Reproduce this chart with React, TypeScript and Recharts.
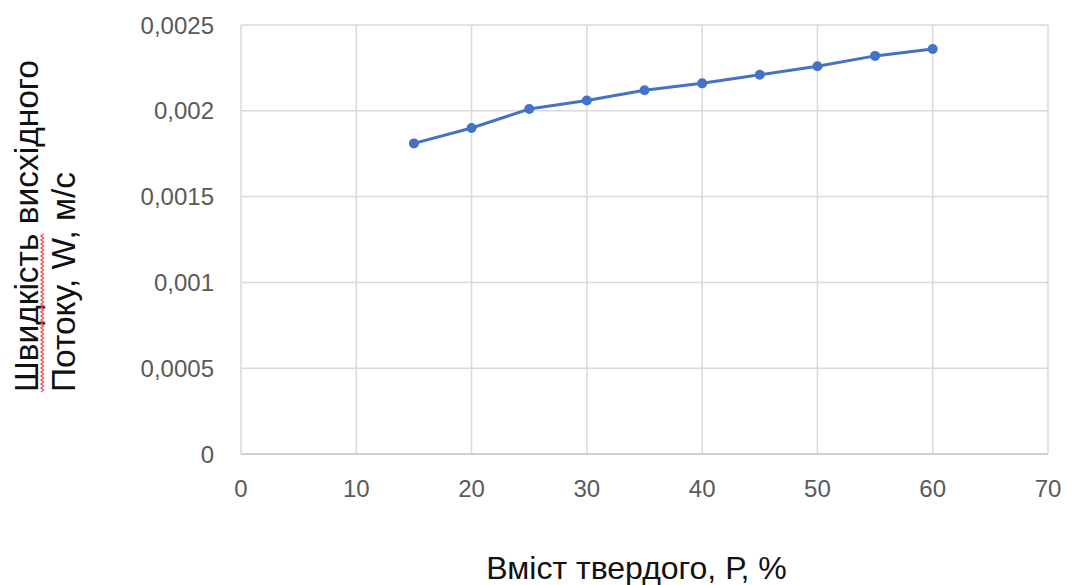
import React, { useLayoutEffect, useRef, useState } from 'react';
import { LineChart, Line, XAxis, YAxis, CartesianGrid, Label } from 'recharts';

// Solids content, P (%)
const solidsPercent = [15, 20, 25, 30, 35, 40, 45, 50, 55, 60];
// Upward flow velocity, W (m/s)
const flowVelocity = [0.00181, 0.0019, 0.00201, 0.00206, 0.00212, 0.00216, 0.00221, 0.00226, 0.00232, 0.00236];

const xTicks = [0, 10, 20, 30, 40, 50, 60, 70];
const yTicks = [0, 0.0005, 0.001, 0.0015, 0.002, 0.0025];

const xTitle = 'Вміст твердого, Р, %';
const yTitleFirstWord = 'Швидкість';
const yTitleRest = ' висхідного';
const yTitleSecondLine = 'Потоку, W, м/с';

const data = solidsPercent.map((p, i) => ({ p, w: flowVelocity[i] }));

const FONT = "'Liberation Sans', Arial, sans-serif";
const TICK_COLOR = '#595959';
const GRID_COLOR = '#d9d9d9';
const LINE_COLOR = '#4472C4';

const formatComma = (v: number) => String(v).replace('.', ',');

// Spell-check style wavy underline drawn under a word of given length
const squigglePath = (x0: number, y0: number, length: number) => {
  const step = 2;
  let d = `M${x0},${y0}`;
  for (let i = 1, x = x0 + step; x <= x0 + length; i++, x += step) {
    d += ` L${x},${y0 + (i % 2 ? 2.5 : 0)}`;
  }
  return d;
};

const YTitle = (props: any) => {
  const vb = props.viewBox || {};
  const bottom = vb.y + vb.height - 62;
  const x1 = 38;
  const x2 = 75;
  const wordRef = useRef<SVGTSpanElement | null>(null);
  const [wordLen, setWordLen] = useState(0);
  useLayoutEffect(() => {
    if (wordRef.current) setWordLen(wordRef.current.getComputedTextLength());
  }, []);
  return (
    <g fontFamily={FONT} fontSize={33.5} fill="#111">
      <g transform={`rotate(-90 ${x1} ${bottom})`}>
        <text x={x1} y={bottom} textAnchor="start">
          <tspan ref={wordRef}>{yTitleFirstWord}</tspan>
          <tspan>{yTitleRest}</tspan>
        </text>
        {wordLen > 0 && (
          <path d={squigglePath(x1, bottom + 3, wordLen)} fill="none" stroke="#ff4a4a" strokeWidth={1.4} />
        )}
      </g>
      <text x={x2} y={bottom} transform={`rotate(-90 ${x2} ${bottom})`} textAnchor="start">
        {yTitleSecondLine}
      </text>
    </g>
  );
};

const XTitle = (props: any) => {
  const vb = props.viewBox || {};
  const cx = vb.x + vb.width / 2 - 8;
  return (
    <text x={cx} y={579} textAnchor="middle" fontFamily={FONT} fontSize={32} fill="#111">
      {xTitle}
    </text>
  );
};

export default function App() {
  return (
    <div style={{ position: 'absolute', left: 0, top: 0, width: 1080, height: 585, background: '#fff' }}>
      <LineChart
        width={1080}
        height={585}
        data={data}
        margin={{ top: 25, right: 32, bottom: 101, left: 0 }}
      >
        <CartesianGrid stroke={GRID_COLOR} strokeWidth={1.5} />
        <XAxis
          dataKey="p"
          type="number"
          domain={[0, 70]}
          ticks={xTicks}
          interval={0}
          height={30}
          tickLine={false}
          tickSize={0}
          tickMargin={26}
          axisLine={{ stroke: '#c8c8c8', strokeWidth: 1.5 }}
          tick={{ fill: TICK_COLOR, fontSize: 24, fontFamily: FONT }}
        >
          <Label content={<XTitle />} />
        </XAxis>
        <YAxis
          type="number"
          domain={[0, 0.0025]}
          ticks={yTicks}
          interval={0}
          width={241}
          axisLine={false}
          tickLine={false}
          tickSize={0}
          tickMargin={27}
          tickFormatter={formatComma}
          tick={{ fill: TICK_COLOR, fontSize: 24, fontFamily: FONT }}
        >
          <Label content={<YTitle />} />
        </YAxis>
        <Line
          type="linear"
          dataKey="w"
          stroke={LINE_COLOR}
          strokeWidth={3}
          dot={{ r: 5, fill: LINE_COLOR, stroke: LINE_COLOR, strokeWidth: 0 }}
          activeDot={false}
          isAnimationActive={false}
        />
      </LineChart>
    </div>
  );
}
